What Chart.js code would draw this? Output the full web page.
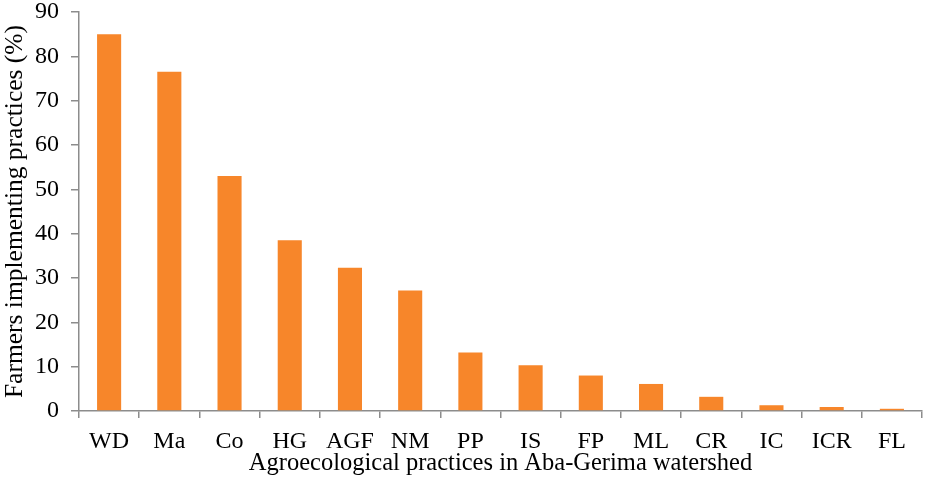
<!DOCTYPE html>
<html>
<head>
<meta charset="utf-8">
<script src="https://cdn.jsdelivr.net/npm/chart.js@4.4.0/dist/chart.umd.min.js"></script>
<style>
html,body{margin:0;padding:0;background:#fff;}
#wrap{width:926px;height:493px;}
</style>
</head>
<body>
<div id="wrap"><canvas id="c" width="926" height="493"></canvas></div>
<script>
const categories = ["WD","Ma","Co","HG","AGF","NM","PP","IS","FP","ML","CR","IC","ICR","FL"];
const values = [85, 76.5, 53, 38.5, 32.3, 27.2, 13.2, 10.3, 8.0, 6.1, 3.2, 1.3, 0.9, 0.5];
const yTicks = [0,10,20,30,40,50,60,70,80,90];

const FONT = "'Liberation Serif','Times New Roman',serif";
const AXIS = "#8c8c8c";

new Chart(document.getElementById('c'), {
  type: 'bar',
  data: {
    labels: categories,
    datasets: [{
      data: values,
      backgroundColor: '#F7862A',
      borderWidth: 0,
      barPercentage: 0.4,
      categoryPercentage: 1.0
    }]
  },
  options: {
    responsive: false,
    animation: false,
    devicePixelRatio: 1,
    layout: { padding: { top: 12, right: 4, left: 0, bottom: 0 } },
    plugins: { legend: { display: false }, tooltip: { enabled: false } },
    scales: {
      x: {
        offset: true,
        grid: { display: true, drawOnChartArea: false, offset: true, color: AXIS, tickLength: 7, lineWidth: 1.5 },
        border: { color: AXIS, width: 1.5 },
        ticks: { color: '#000', font: { family: FONT, size: 24 }, padding: 9, maxRotation: 0, autoSkip: false },
        title: { display: true, text: 'Agroecological practices in Aba-Gerima watershed', color: '#000', font: { family: FONT, size: 24.5 }, padding: { top: 0, bottom: 15 } },
        afterFit: (s) => { s.height = 82; s.paddingLeft = 0; s.paddingRight = 0; }
      },
      y: {
        min: 0, max: 90,
        afterBuildTicks: (s) => { s.ticks = yTicks.map(v => ({ value: v })); },
        grid: { display: true, drawOnChartArea: false, color: AXIS, tickLength: 8, lineWidth: 1.5 },
        border: { color: AXIS, width: 1.5 },
        ticks: { color: '#000', font: { family: FONT, size: 24 }, padding: 12 },
        title: { display: true, text: 'Farmers implementing practices (%)', color: '#000', font: { family: FONT, size: 25.5 }, padding: { top: 0, bottom: 0 } },
        afterFit: (s) => { s.width = 79; s.paddingTop = 0; s.paddingBottom = 0; }
      }
    }
  }
});
</script>
</body>
</html>
